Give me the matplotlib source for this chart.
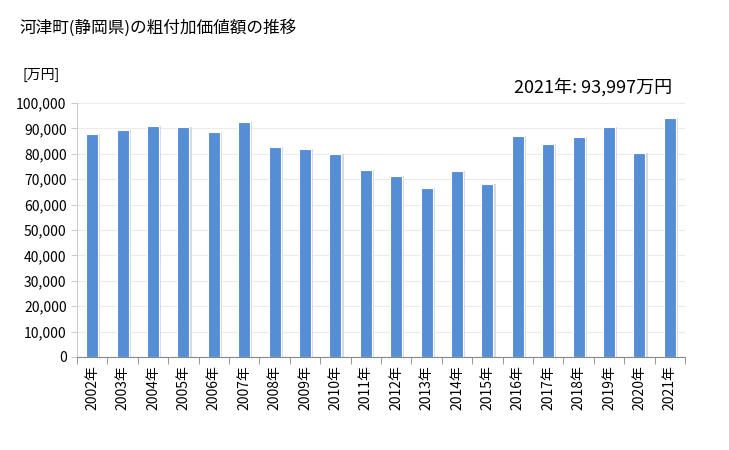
import numpy as np
import matplotlib
matplotlib.use("Agg")
import matplotlib.pyplot as plt
from matplotlib.ticker import FuncFormatter

plt.rcParams["font.family"] = ["Noto Sans CJK JP", "DejaVu Sans"]

years = [str(y) for y in range(2002, 2022)]
values = [87800, 89400, 90900, 90550, 88600, 92500, 82700, 81900, 79900, 73600,
          71300, 66500, 73200, 68100, 87000, 83900, 86600, 90550, 80300, 93997]
labels = [f"{y}年" for y in years]

fig = plt.figure(figsize=(7.29, 4.5), dpi=100)
ax = fig.add_axes([77 / 729, 1 - 357 / 450, (685 - 77) / 729, (357 - 103) / 450])

x = np.arange(len(years))
# faint shadow behind each bar
ax.bar(x + 0.06, values, width=0.42, color="#d9d9d9", zorder=2)
ax.bar(x, values, width=0.40, color="#558ed5", edgecolor="white", linewidth=0.8, zorder=3)

ax.set_xlim(-0.5, len(years) - 0.5)
ax.set_ylim(0, 100000)
ax.set_yticks(np.arange(0, 100001, 10000))
ax.yaxis.set_major_formatter(FuncFormatter(lambda v, p: f"{int(v):,}"))
ax.grid(axis="y", color="#ebebeb", linewidth=0.8, zorder=0)
ax.set_axisbelow(True)

ax.set_xticks(x)
ax.set_xticklabels(labels, rotation=90, fontsize=10)
ax.set_xticks(np.arange(-0.5, len(years), 1), minor=True)
ax.tick_params(axis="x", which="major", length=0, pad=6)
ax.tick_params(axis="x", which="minor", length=5, color="#888888")
ax.tick_params(axis="y", length=4, color="#cccccc", labelsize=10)

for s in ["top", "right"]:
    ax.spines[s].set_visible(False)
ax.spines["left"].set_color("#cccccc")
ax.spines["bottom"].set_color("#888888")

fig.text(20 / 729, 1 - 28 / 450, "河津町(静岡県)の粗付加価値額の推移", fontsize=12, va="center", ha="left")
fig.text(22 / 729, 1 - 75 / 450, "[万円]", fontsize=10, va="center", ha="left")
fig.text(672 / 729, 1 - 87 / 450, f"2021年: {values[-1]:,}万円", fontsize=13, va="center", ha="right")

fig.savefig("out.png", dpi=100)
